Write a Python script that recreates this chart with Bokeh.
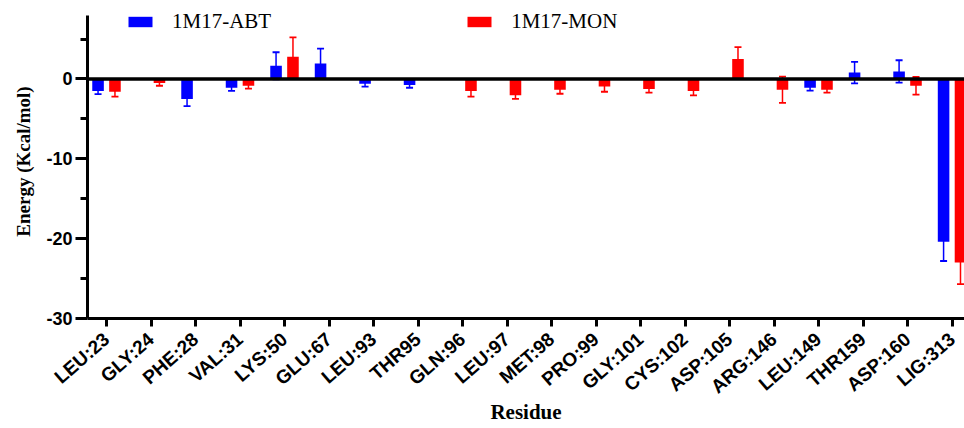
from bokeh.plotting import figure
from bokeh.models import (ColumnDataSource, Range1d, FixedTicker, Span, Whisker,
                          TeeHead, Legend, LegendItem)
from bokeh.transform import dodge
from bokeh.embed import file_html
from bokeh.resources import INLINE

residues = ["LEU:23", "GLY:24", "PHE:28", "VAL:31", "LYS:50", "GLU:67", "LEU:93", "THR95",
            "GLN:96", "LEU:97", "MET:98", "PRO:99", "GLY:101", "CYS:102", "ASP:105",
            "ARG:146", "LEU:149", "THR159", "ASP:160", "LIG:313"]
abt_mean = [-1.5, 0.0, -2.5, -1.1, 1.65, 1.95, -0.6, -0.75, 0.0, 0.0, 0.0, 0.0, 0.0, 0.0, 0.0,
            0.0, -1.1, 0.8, 0.95, -20.4]
abt_sd = [0.4, 0.0, 0.9, 0.4, 1.7, 1.85, 0.35, 0.35, 0.0, 0.0, 0.0, 0.0, 0.0, 0.0, 0.0,
          0.0, 0.35, 1.35, 1.4, 2.4]
mon_mean = [-1.6, -0.5, 0.0, -0.85, 2.8, 0.0, 0.0, 0.0, -1.5, -2.05, -1.35, -0.95, -1.25, -1.5,
            2.5, -1.35, -1.35, 0.0, -0.85, -23.0]
mon_sd = [0.6, 0.35, 0.0, 0.35, 2.4, 0.0, 0.0, 0.0, 0.7, 0.45, 0.5, 0.65, 0.45, 0.55,
          1.5, 1.65, 0.35, 0.0, 1.1, 2.7]
series_names = ["1M17-ABT", "1M17-MON"]
series_colors = ["#0000FF", "#FF0000"]
y_major = [-30, -20, -10, 0]
y_minor = [-25, -15, -5, 5]
y_labels = ["-30", "-20", "-10", "0"]

positions = [i + 0.5 for i in range(len(residues))]

p = figure(width=964, height=428, output_backend="svg", toolbar_location=None,
           x_range=Range1d(0.073, 19.78), y_range=Range1d(-30, 9.33),
           min_border_left=87, min_border_right=0, min_border_top=4, min_border_bottom=110)
p.outline_line_color = None
p.xgrid.visible = False
p.ygrid.visible = False
p.background_fill_color = "white"

offsets = [-0.19, 0.19]
renderers = []
for means, sds, off, col in [(abt_mean, abt_sd, offsets[0], series_colors[0]),
                             (mon_mean, mon_sd, offsets[1], series_colors[1])]:
    keep = [i for i, m in enumerate(means) if m != 0]
    src = ColumnDataSource(dict(
        x=[positions[i] for i in keep],
        m=[means[i] for i in keep],
        lo=[means[i] - sds[i] for i in keep],
        hi=[means[i] + sds[i] for i in keep],
    ))
    w = Whisker(source=src, base=dodge("x", off), upper="hi", lower="lo",
                line_color=col, line_width=1.5, level="underlay",
                upper_head=TeeHead(size=7, line_color=col, line_width=1.8),
                lower_head=TeeHead(size=7, line_color=col, line_width=1.8))
    p.add_layout(w)
    r = p.vbar(x=dodge("x", off), top="m", bottom=0, width=0.26,
               source=src, fill_color=col, line_color=None)
    renderers.append(r)

p.add_layout(Span(location=0, dimension="width", line_color="black", line_width=3.5))

for ax in [p.xaxis[0], p.yaxis[0]]:
    ax.axis_line_width = 3
    ax.axis_line_color = "black"
    ax.major_tick_line_width = 3
    ax.major_tick_line_color = "black"
    ax.major_tick_in = 0
    ax.major_label_text_color = "black"
    ax.major_label_text_font = "Liberation Sans"
    ax.major_label_text_font_style = "bold"
    ax.axis_label_text_font = "Liberation Serif"
    ax.axis_label_text_font_style = "bold"
    ax.axis_label_text_color = "black"

p.yaxis.ticker = FixedTicker(ticks=y_major, minor_ticks=y_minor)
p.yaxis.bounds = (-30, 8)
p.yaxis.major_label_overrides = {t: s for t, s in zip(y_major, y_labels)}
p.yaxis.major_tick_out = 12
p.yaxis.minor_tick_out = 7
p.yaxis.minor_tick_in = 0
p.yaxis.minor_tick_line_width = 3
p.yaxis.minor_tick_line_color = "black"
p.yaxis.major_label_text_font_size = "18px"
p.yaxis.major_label_standoff = 3
p.yaxis.axis_label = "Energy (Kcal/mol)"
p.yaxis.axis_label_text_font_size = "19px"
p.yaxis.axis_label_standoff = 9

p.xaxis.ticker = FixedTicker(ticks=positions, minor_ticks=[])
p.xaxis.major_label_overrides = {pos: name for pos, name in zip(positions, residues)}
p.xaxis.minor_tick_line_color = None
p.xaxis.major_tick_out = 8
p.xaxis.major_label_orientation = 0.72
p.xaxis.major_label_text_font_size = "19px"
p.xaxis.major_label_standoff = 10
p.xaxis.axis_label = "Residue"
p.xaxis.axis_label_text_font_size = "21px"
p.xaxis.axis_label_standoff = -8

legend = Legend(items=[LegendItem(label=series_names[0], renderers=[renderers[0]]),
                       LegendItem(label=series_names[1], renderers=[renderers[1]])],
                orientation="horizontal", location=(38, 284), padding=0, margin=0,
                spacing=193, glyph_width=30, glyph_height=13, label_standoff=17,
                label_text_font="Liberation Serif", label_text_font_size="21px",
                label_text_color="black", border_line_color=None, background_fill_alpha=0)
p.add_layout(legend, "center")

open("out.html", "w").write(file_html(p, INLINE))
